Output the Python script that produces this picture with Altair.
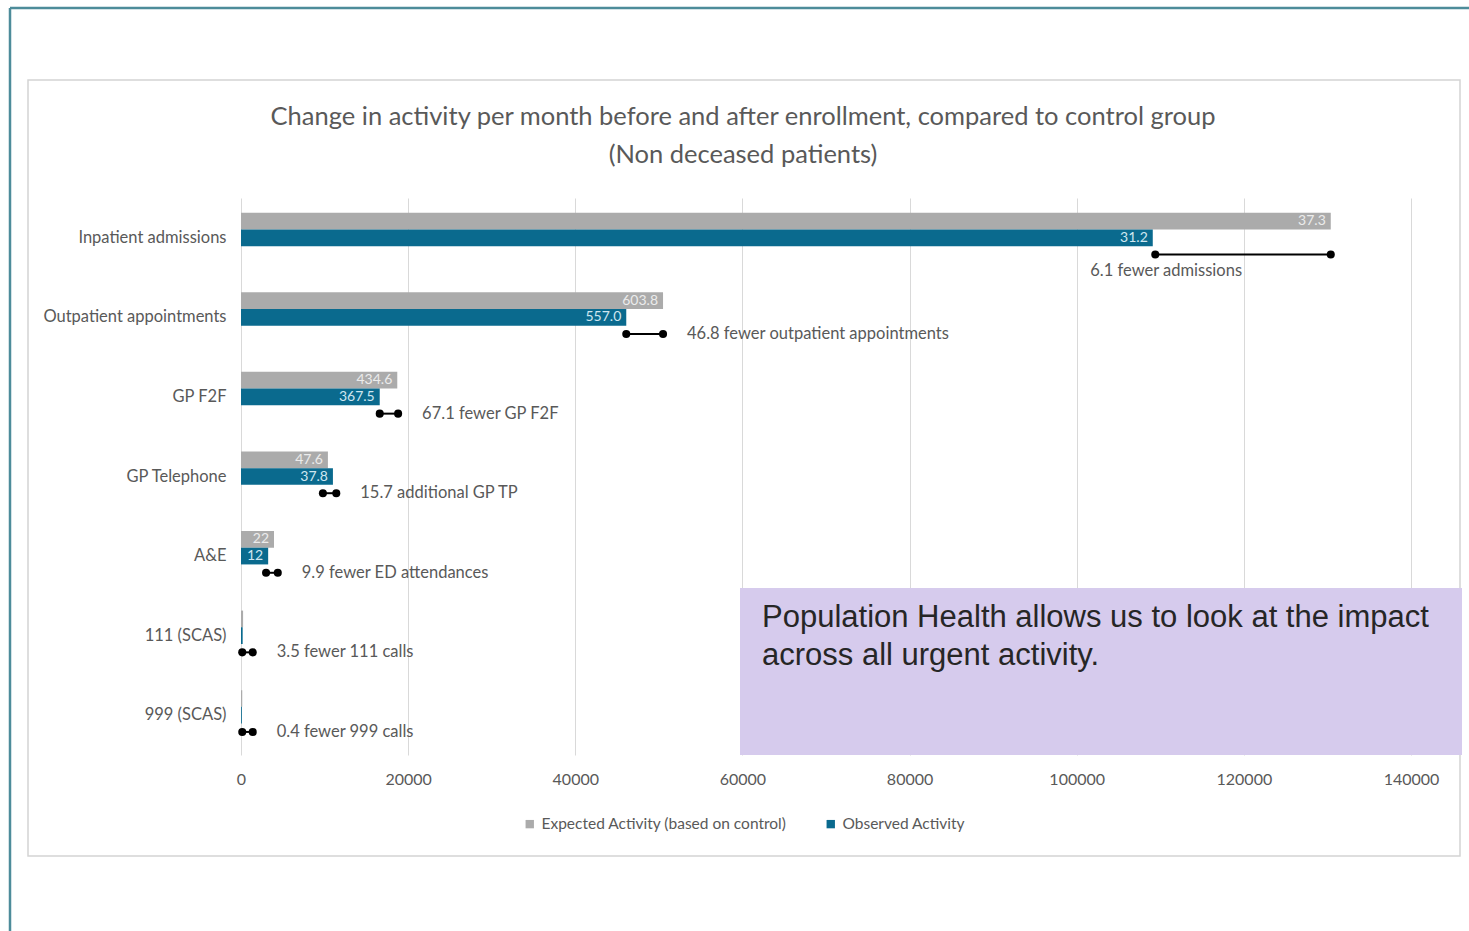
import altair as alt
import pandas as pd

categories = ["Inpatient admissions", "Outpatient appointments", "GP F2F", "GP Telephone",
              "A&E", "111 (SCAS)", "999 (SCAS)"]
expected = [130400, 50500, 18700, 10400, 3950, 250, 150]
observed = [109100, 46100, 16600, 11000, 3250, 200, 100]
expected_labels = ["37.3", "603.8", "434.6", "47.6", "22", "", ""]
observed_labels = ["31.2", "557.0", "367.5", "37.8", "12", "", ""]
diff_start = [109400, 46100, 16600, 9800, 3000, 150, 150]
diff_end = [130400, 50500, 18800, 11400, 4400, 1400, 1400]
diff_notes = ["6.1 fewer admissions", "46.8 fewer outpatient appointments", "67.1 fewer GP F2F",
              "15.7 additional GP TP", "9.9 fewer ED attendances", "3.5 fewer 111 calls",
              "0.4 fewer 999 calls"]
series_names = ["Expected Activity (based on control)", "Observed Activity"]
x_ticks = [0, 20000, 40000, 60000, 80000, 100000, 120000, 140000]
title_text = ("Change in activity per month before and after enrollment, compared to control group\n"
              "(Non deceased patients)")
callout = "Population Health allows us to look at the impact\nacross all urgent activity."

GREY = "#ababab"
BLUE = "#0a6a8e"
TXT = "#595959"
FONT = "Lato"

rows = []
for c, e, o, el, ol in zip(categories, expected, observed, expected_labels, observed_labels):
    rows.append({"category": c, "series": series_names[0], "value": e, "label": el, "slot": "a"})
    rows.append({"category": c, "series": series_names[1], "value": o, "label": ol, "slot": "b"})
bars_df = pd.DataFrame(rows)

diff_df = pd.DataFrame({"category": categories, "start": diff_start, "end": diff_end,
                        "note": diff_notes, "slot": ["c"] * len(categories)})

y_axis = alt.Axis(title=None, labelFontSize=16.5, labelColor=TXT, labelFont=FONT,
                  ticks=False, domain=False, labelPadding=15, grid=False, labelLimit=400)
y_scale = alt.Scale(paddingInner=0.37, paddingOuter=0.185)
y_enc = alt.Y("category:N", sort=categories, scale=y_scale, axis=y_axis)
yoff = alt.YOffset("slot:N", scale=alt.Scale(domain=["a", "b", "c"], paddingInner=0, paddingOuter=0))
x_scale = alt.Scale(domain=[0, 140000], nice=False)
x_axis = alt.Axis(values=x_ticks, format="d", labelFontSize=16, labelColor=TXT, labelFont=FONT,
                  ticks=False, domain=False, grid=True, gridColor="#d9d9d9", title=None,
                  labelPadding=16, labelFlush=False)


def xq(field):
    return alt.X(field, type="quantitative", scale=x_scale, axis=x_axis)


one = pd.DataFrame({"k": [0]})

# decorative frames
frame_box = alt.Chart(one).mark_rect(fill="white", fillOpacity=0, stroke="#d4d4d4", strokeWidth=1.5).encode(
    x=alt.value(-213), x2=alt.value(1219), y=alt.value(-118), y2=alt.value(658))
teal_top = alt.Chart(one).mark_rule(color="#4d8c9a", strokeWidth=2.5).encode(
    x=alt.value(-231), x2=alt.value(1228), y=alt.value(-190))
teal_left = alt.Chart(one).mark_rule(color="#4d8c9a", strokeWidth=2.5).encode(
    x=alt.value(-231), y=alt.value(-190), y2=alt.value(733))

title_mark = alt.Chart(pd.DataFrame({"t": [title_text]})).mark_text(
    align="center", baseline="middle", fontSize=25.5, font=FONT, color=TXT,
    lineBreak="\n", lineHeight=38).encode(x=alt.value(502), y=alt.value(-81), text="t:N")

bars = alt.Chart(bars_df).mark_bar().encode(
    x=xq("value"),
    y=y_enc, yOffset=yoff,
    color=alt.Color("series:N", scale=alt.Scale(domain=series_names, range=[GREY, BLUE]),
                    legend=alt.Legend(title=None, orient="none", legendX=281, legendY=618,
                                      direction="horizontal", symbolType="square", symbolSize=70,
                                      labelFontSize=15.5, labelColor=TXT, labelFont=FONT,
                                      labelLimit=500, columnPadding=36, symbolStrokeWidth=0)))

bar_labels = alt.Chart(bars_df).mark_text(align="right", baseline="middle", dx=-5, fontSize=14,
                                          font=FONT).encode(
    x=xq("value"), y=y_enc, yOffset=yoff, text="label:N",
    color=alt.condition(alt.datum.series == series_names[1], alt.value("#cfe6f0"), alt.value("#ececec")))

rules = alt.Chart(diff_df).mark_rule(color="black", strokeWidth=2).encode(
    x=xq("start"), x2="end:Q", y=y_enc, yOffset=yoff)

dots = alt.Chart(diff_df).transform_fold(["start", "end"], as_=["which", "pos"]).mark_circle(
    color="black", opacity=1, size=65).encode(
    x=xq("pos"), y=y_enc, yOffset=yoff)

notes_main = alt.Chart(diff_df).transform_filter(alt.datum.category != categories[0]).mark_text(
    align="left", baseline="middle", dx=24, fontSize=16.5, color=TXT, font=FONT).encode(
    x=xq("end"), y=y_enc, yOffset=yoff, text="note:N")

notes_first = alt.Chart(diff_df).transform_filter(alt.datum.category == categories[0]).mark_text(
    align="left", baseline="middle", dx=-65, dy=17, fontSize=16.5, color=TXT, font=FONT).encode(
    x=xq("start"), y=y_enc, yOffset=yoff, text="note:N")

purple = alt.Chart(one).mark_rect(fill="#d6cbed").encode(
    x=alt.value(499), x2=alt.value(1221), y=alt.value(390), y2=alt.value(557))
callout_text = alt.Chart(pd.DataFrame({"t": [callout]})).mark_text(
    align="left", baseline="middle", fontSize=31, font="Liberation Sans", color="#262626",
    lineBreak="\n", lineHeight=38).encode(x=alt.value(521), y=alt.value(420), text="t:N")

chart = alt.layer(
    frame_box, teal_top, teal_left, title_mark, bars, bar_labels, rules, dots, notes_main,
    notes_first, purple, callout_text
).properties(
    width=1170, height=557,
    autosize=alt.AutoSizeParams(type="none"),
    padding={"left": 241, "top": 198, "right": 58, "bottom": 176},
    view=alt.ViewBackground(stroke="transparent", strokeWidth=0),
).configure_view(stroke="transparent", strokeWidth=0).configure_axis(
    domain=False, ticks=False
).configure_axisY(grid=False).configure(background="white")

chart.save("out.html", embed_options={"renderer": "svg", "actions": False})
